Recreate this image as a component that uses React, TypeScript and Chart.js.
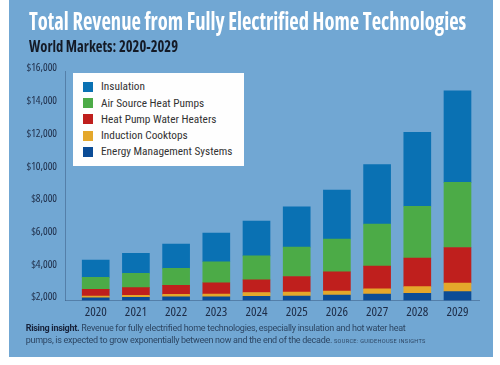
import React, { useEffect, useRef } from 'react';
import { Chart, registerables } from 'chart.js';

Chart.register(...registerables);

const years = [2020, 2021, 2022, 2023, 2024, 2025, 2026, 2027, 2028, 2029];
const energyMgmt = [165, 196, 232, 232, 257, 263, 324, 398, 446, 538];
const inductionCooktops = [110, 122, 147, 165, 232, 257, 257, 318, 398, 520];
const heatPumpWaterHeaters = [410, 465, 550, 691, 777, 948, 1174, 1382, 1755, 2183];
const airSourceHeatPumps = [734, 881, 1040, 1284, 1468, 1792, 2006, 2581, 3168, 3988];
const insulation = [1046, 1223, 1486, 1755, 2116, 2471, 2985, 3627, 4526, 5602];
const yTickValues = [0, 2000, 4000, 6000, 8000, 10000, 12000, 14000];
const yTickLabels = ['$2,000', '$4,000', '$6,000', '$8,000', '$10,000', '$12,000', '$14,000', '$16,000'];

const seriesNames = ['Energy Management Systems', 'Induction Cooktops', 'Heat Pump Water Heaters', 'Air Source Heat Pumps', 'Insulation'];
const seriesColors = ['#0b4c96', '#e4a72b', '#bf1f1d', '#4cab47', '#0a71b3'];
const seriesData = [energyMgmt, inductionCooktops, heatPumpWaterHeaters, airSourceHeatPumps, insulation];

const BG = '#71a7d3';
const TICK = '#1d2b46';

export default function App() {
  const ref = useRef<HTMLCanvasElement>(null);
  useEffect(() => {
    if (!ref.current) return;
    const chart = new Chart(ref.current, {
      type: 'bar',
      data: {
        labels: years,
        datasets: seriesNames.map((name, i) => ({
          label: name,
          data: seriesData[i],
          backgroundColor: seriesColors[i],
          borderWidth: 0,
          barThickness: 27,
        })),
      },
      options: {
        responsive: false,
        animation: false,
        layout: { padding: { left: 6, right: 14, top: 71.6, bottom: 32.5 } },
        plugins: { legend: { display: false }, tooltip: { enabled: false }, title: { display: false } },
        scales: {
          x: {
            type: 'linear',
            stacked: true,
            offset: false,
            min: 2019.236,
            max: 2029.535,
            grid: { display: false, drawTicks: false },
            border: { display: true, color: 'rgba(60,95,135,0.55)', width: 1 },
            afterBuildTicks: (s: any) => { s.ticks = years.map((v) => ({ value: v })); },
            afterFit: (s: any) => { s.height = 24; },
            ticks: {
              callback: (v: any) => String(v),
              color: TICK,
              font: { family: "'Open Sans'", size: 13, weight: 'condensed' as any },
              padding: 4,
              maxRotation: 0,
              autoSkip: false,
            },
          },
          y: {
            stacked: true,
            min: 0,
            max: 14000,
            grid: { display: false, drawTicks: false },
            border: { display: true, color: 'rgba(60,95,135,0.55)', width: 1 },
            afterBuildTicks: (s: any) => { s.ticks = yTickValues.map((v) => ({ value: v })); },
            afterFit: (s: any) => { s.width = 50; },
            ticks: {
              callback: (v: any) => yTickLabels[yTickValues.indexOf(Number(v))],
              color: TICK,
              font: { family: "'Open Sans'", size: 11, weight: 'condensed' as any },
              padding: 8,
              labelOffset: -3.3,
              autoSkip: false,
            },
          },
        },
      },
    });
    return () => chart.destroy();
  }, []);

  const legendOrder = [4, 3, 2, 1, 0];
  return (
    <div style={{ position: 'absolute', left: 9, top: 0, width: 484, height: 357, background: BG, overflow: 'hidden' }}>
      <canvas ref={ref} width={484} height={357} style={{ position: 'absolute', left: 0, top: 0 }} />
      <div style={{ position: 'absolute', left: 20, top: 9.4, fontFamily: "'Open Sans'", fontStretch: 'condensed', fontWeight: 700, fontSize: 24, lineHeight: '24px', color: '#fff', whiteSpace: 'nowrap', transform: 'scaleX(0.855)', transformOrigin: '0 0' }}>
        Total Revenue from Fully Electrified Home Technologies
      </div>
      <div style={{ position: 'absolute', left: 20, top: 38, fontFamily: "'Open Sans'", fontStretch: 'condensed', fontWeight: 700, fontSize: 16, lineHeight: '16px', color: '#141a26', whiteSpace: 'nowrap', transform: 'scaleX(0.91)', transformOrigin: '0 0' }}>
        World Markets: 2020-2029
      </div>
      <div style={{ position: 'absolute', left: 64, top: 73, width: 171, height: 93, background: '#fefefe' }}>
        {legendOrder.map((i, k) => (
          <div key={i} style={{ position: 'absolute', left: 10, top: 8.7 + k * 16.3, height: 10, display: 'flex', alignItems: 'center', whiteSpace: 'nowrap' }}>
            <div style={{ width: 10, height: 10, background: seriesColors[i] }} />
            <span style={{ marginLeft: 8, fontFamily: 'Roboto', fontStretch: 'condensed', fontSize: 11.3, color: '#333' }}>{seriesNames[i]}</span>
          </div>
        ))}
      </div>
      <div style={{ position: 'absolute', left: 16.7, top: 322.8, width: 460, fontFamily: 'Roboto', fontSize: 9, lineHeight: '11.7px', letterSpacing: -0.28, color: '#2d4663', whiteSpace: 'nowrap' }}>
        <b style={{ color: '#17223a' }}>Rising insight.</b> Revenue for fully electrified home technologies, especially insulation and hot water heat<br />
        pumps, is expected to grow exponentially between now and the end of the decade. <span style={{ fontSize: 5.6, letterSpacing: 0.3 }}>SOURCE: GUIDEHOUSE INSIGHTS</span>
      </div>
    </div>
  );
}
